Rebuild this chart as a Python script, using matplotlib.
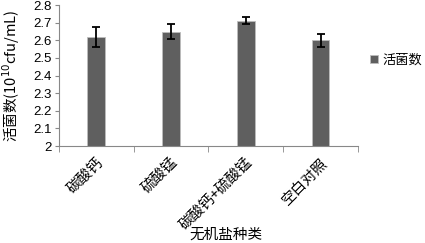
import matplotlib.pyplot as plt
import numpy as np

plt.rcParams['font.family'] = ['Noto Sans CJK SC', 'DejaVu Sans']

# data
categories = ["碳酸钙", "硫酸锰", "碳酸钙+硫酸锰", "空白对照"]
counts = [2.62, 2.65, 2.71, 2.60]
errors = [0.057, 0.04, 0.02, 0.036]

fig = plt.figure(figsize=(4.25, 2.43), dpi=100)
ax = fig.add_axes([0.139, 0.399, 0.703, 0.58])

x = np.arange(len(categories))
ax.bar(x, counts, width=0.24, color="#5f5f5f", edgecolor="#bdbdbd", linewidth=0.6,
       yerr=errors, capsize=3, error_kw=dict(ecolor="black", elinewidth=1.3, capthick=1.3),
       label="活菌数", zorder=2)

ax.set_xlim(-0.5, len(categories) - 0.5)
ax.set_ylim(2, 2.8)
yt = np.round(np.arange(2, 2.81, 0.1), 1)
ax.set_yticks(yt)
ax.set_yticklabels([f"{v:g}" for v in yt], fontsize=9.5,
                   family=['Liberation Sans', 'DejaVu Sans'])

ax.set_xticks(x)
ax.set_xticklabels(categories, rotation=45, ha="right", rotation_mode="anchor", fontsize=10.5)
ax.set_xticks(np.arange(-0.5, len(categories)), minor=True)
ax.tick_params(axis="x", which="major", length=0, pad=7)
ax.tick_params(axis="x", which="minor", length=4, color="#888888")
ax.tick_params(axis="y", length=3, color="#888888", pad=2)

for s in ["top", "right"]:
    ax.spines[s].set_visible(False)
for s in ["left", "bottom"]:
    ax.spines[s].set_color("#888888")

ax.set_ylabel("活菌数(10$^{10}$cfu/mL)", fontsize=10.5)
ax.yaxis.set_label_coords(-0.125, 0.5)
ax.set_xlabel("无机盐种类", fontsize=10.5)
ax.xaxis.set_label_coords(0.558, -0.58)

ax.legend(loc="center left", bbox_to_anchor=(1.0, 0.61), frameon=False, fontsize=9.5,
          handlelength=0.6, handleheight=0.6, handletextpad=0.4)

fig.savefig("out.png", dpi=100)
